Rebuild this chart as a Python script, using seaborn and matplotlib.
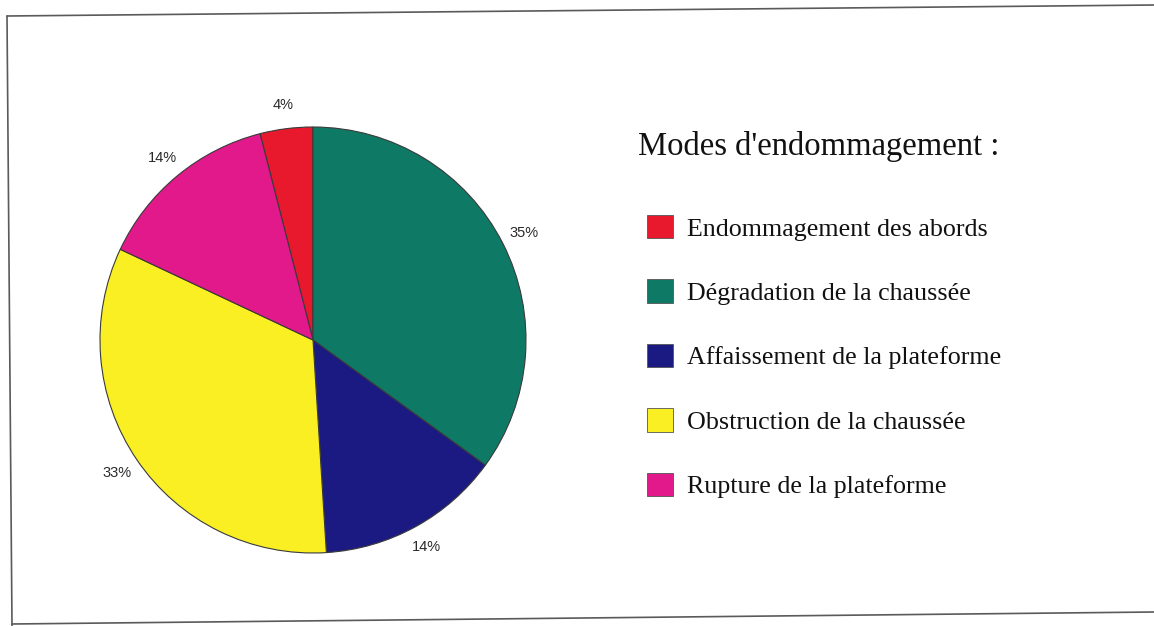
import matplotlib
matplotlib.use("Agg")
import matplotlib.pyplot as plt
from matplotlib.lines import Line2D
import seaborn as sns

# Damage modes and their share (%)
modes = [
    "Endommagement des abords",
    "Dégradation de la chaussée",
    "Affaissement de la plateforme",
    "Obstruction de la chaussée",
    "Rupture de la plateforme",
]
shares = [4, 35, 14, 33, 14]
mode_colors = ["#e8192c", "#0e7a66", "#1b1a82", "#f9ef22", "#e1198b"]
legend_title = "Modes d'endommagement :"

sns.set_theme(style="white")
plt.rcParams["font.family"] = ["Liberation Serif", "DejaVu Serif"]

W, H = 1154, 626
fig = plt.figure(figsize=(W / 100, H / 100), dpi=100)
fig.patch.set_facecolor("white")

# Pie area (square, in pixels)
cx, cy, r = 313, 340, 213
ax = fig.add_axes([(cx - r) / W, (H - cy - r) / H, 2 * r / W, 2 * r / H])

palette = sns.color_palette(mode_colors)
wedges, _, pct_texts = ax.pie(
    shares,
    colors=palette,
    startangle=90 + shares[0] * 3.6,
    counterclock=False,
    autopct=lambda p: f"{p:.0f}%",
    pctdistance=1.11,
    wedgeprops=dict(edgecolor="#3a3a3a", linewidth=0.8),
    textprops=dict(family="Liberation Sans", fontsize=10.5, color="#2a2a2a"),
)
ax.set_xlim(-1, 1)
ax.set_ylim(-1, 1)
ax.set_aspect("equal")
ax.axis("off")

# Legend title and entries
fig.text(638 / W, 1 - 155 / H, legend_title, fontsize=23.5,
         family="Liberation Serif", color="#111111", va="baseline", ha="left")

leg = fig.legend(
    wedges, modes,
    loc="upper left",
    bbox_to_anchor=(647 / W, 1 - 215 / H),
    frameon=False,
    prop=dict(family="Liberation Serif", size=18.7),
    handlelength=1.0,
    handleheight=1.0,
    handletextpad=0.54,
    labelspacing=1.50,
    borderpad=0,
    borderaxespad=0,
)
for t in leg.get_texts():
    t.set_color("#111111")
for h in leg.legend_handles:
    h.set_edgecolor("#555555")
    h.set_linewidth(0.6)

# Outer frame of the figure
def px_line(xs, ys):
    fig.add_artist(Line2D([x / W for x in xs], [1 - y / H for y in ys],
                          color="#5a5a5a", linewidth=1.2,
                          transform=fig.transFigure))

px_line([7, 1154], [16, 5])
px_line([7, 12], [16, 626])
px_line([12, 1154], [624, 612])

fig.savefig("out.png", dpi=100, facecolor="white")
